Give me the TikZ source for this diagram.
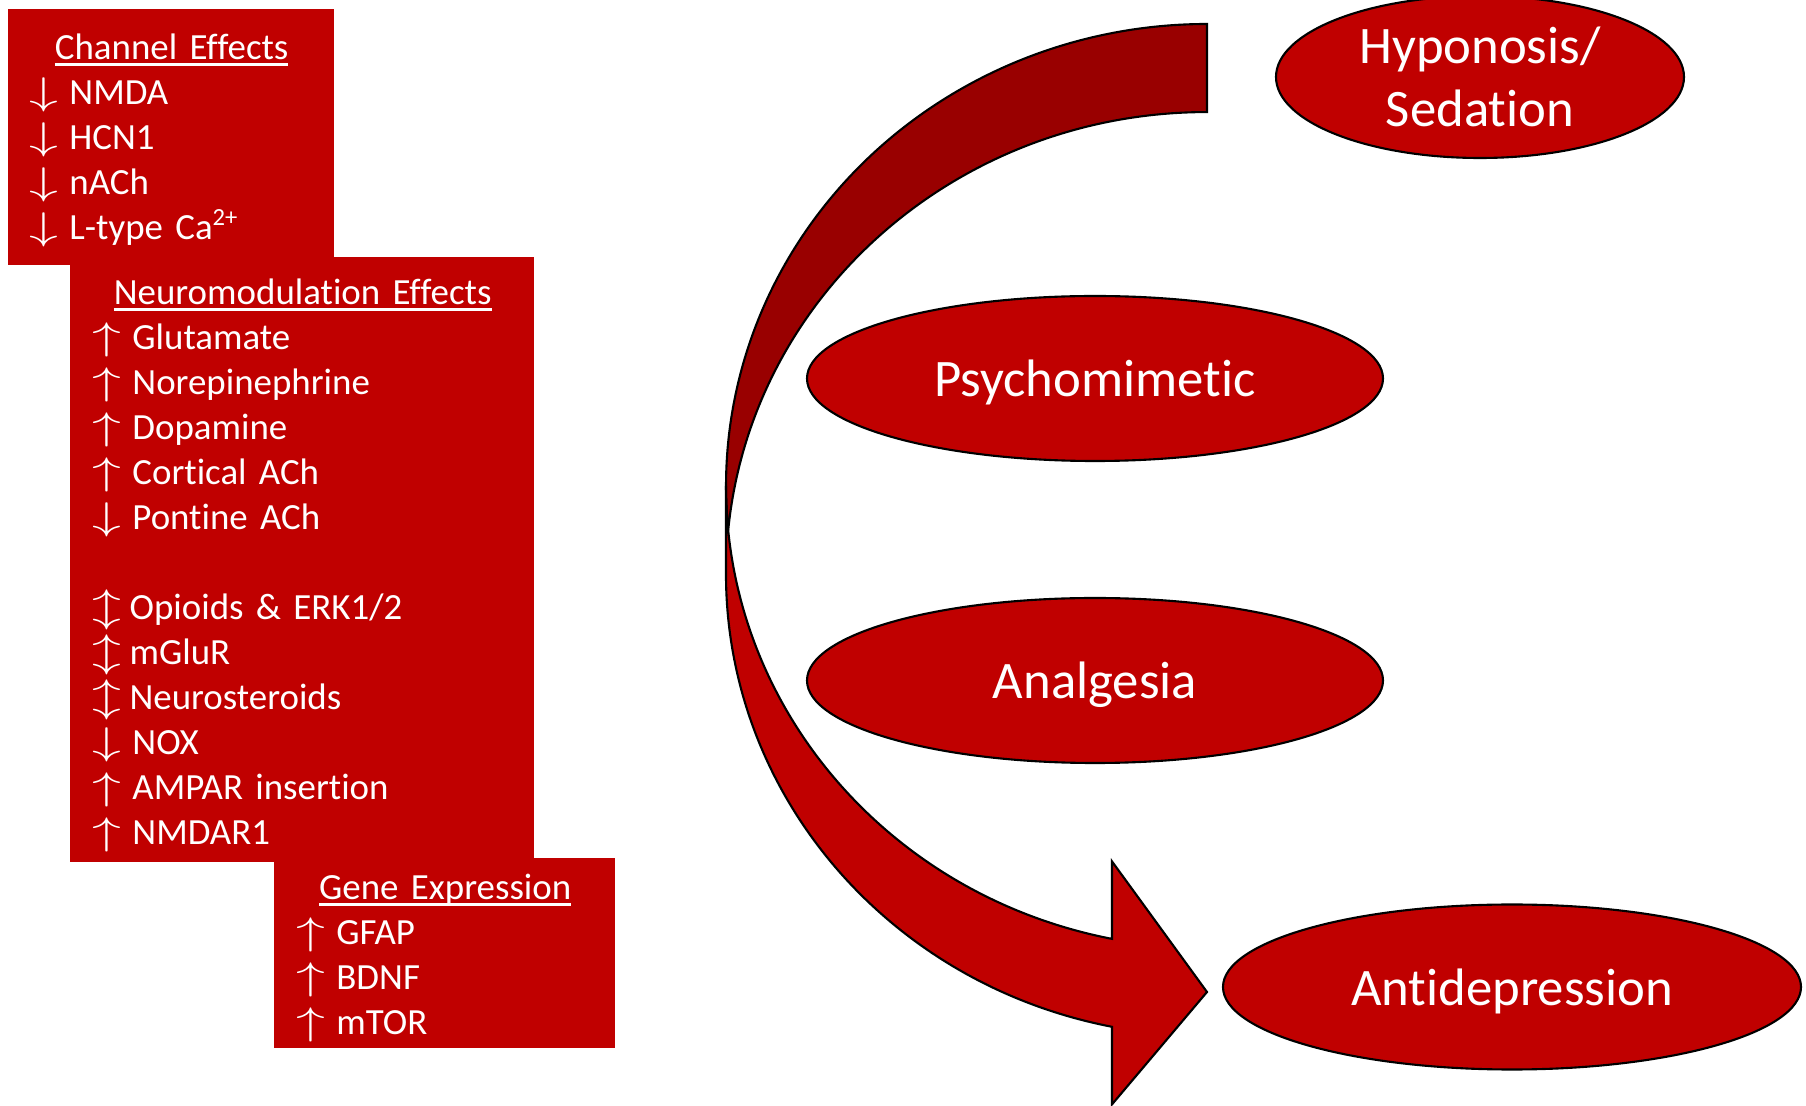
\documentclass[tikz,border=0pt]{standalone}
\usepackage{fontspec}
\setmainfont[Ligatures=NoCommon, RawFeature={-liga;-clig;-calt;-dlig}]{Carlito}
\usepackage{graphicx}
\usepackage{tikz}
\usetikzlibrary{positioning, shapes.geometric}

\definecolor{pptred}{HTML}{C00000}
\definecolor{pptdark}{HTML}{990000}

% arrows in front of the list entries
\newcommand{\incr}{\makebox[11.3pt][l]{\scalebox{1.5}[1]{$\uparrow$}}}
\newcommand{\decr}{\makebox[11.3pt][l]{\scalebox{1.5}[1]{$\downarrow$}}}
\newcommand{\both}{\makebox[10.5pt][l]{\scalebox{1.5}[1]{$\updownarrow$}}}
% underlined, centred heading of a box
\newsavebox{\titlebox}
\newcommand{\boxtitle}[1]{\sbox{\titlebox}{#1}%
    \makebox[\hsize]{\strut\rlap{\rule[-1.8pt]{\wd\titlebox}{0.6pt}}\usebox{\titlebox}}}
\newcommand{\ionsup}[1]{\raisebox{0.36em}{\fontsize{7}{8}\selectfont #1}}

\begin{document}
\begin{tikzpicture}[
    % red boxes holding the lists of effects
    effbox/.style={fill=pptred, inner sep=0pt, outer sep=0pt, anchor=north west},
    efftext/.style={text=white, font=\fontsize{10.5}{12.8}\selectfont, align=left, inner sep=0pt},
    % outcomes on the right
    outcome/.style={ellipse, draw=black, line width=0.6pt, fill=pptred, text=white, inner sep=0pt,
        font=\fontsize{15}{18}\selectfont, align=center},
    oneline/.style={outcome, text depth=0pt, minimum width=5.76cm, minimum height=1.65cm},
    band/.style={draw=black, line width=0.6pt, line join=miter}]

\useasboundingbox (0,0) rectangle (18.06,-11.06);

% Boxes with the effects
\node[effbox, minimum width=4.64cm, minimum height=6.05cm] (neuro) at (0.70,-2.57) {};
\node[effbox, minimum width=3.26cm, minimum height=2.56cm] (chan) at (0.08,-0.09) {};
\node[effbox, minimum width=3.41cm, minimum height=1.90cm] (gene) at (2.74,-8.58) {};

\node[efftext, text width=2.84cm, below right=0.18cm and 0.21cm of chan.north west] (chanlist) {%
    \boxtitle{Channel Effects}\\
    \decr NMDA\\
    \decr HCN1\\
    \decr nACh\\
    \decr L-type Ca\ionsup{2+}};
\node[efftext, text width=4.20cm, below right=0.15cm and 0.22cm of neuro.north west] (neurolist) {%
    \boxtitle{Neuromodulation Effects}\\
    \incr Glutamate\\
    \incr Norepinephrine\\
    \incr Dopamine\\
    \incr Cortical ACh\\
    \decr Pontine ACh\\[12.8pt]
    \both Opioids \& ERK1/2\\
    \both mGluR\\
    \both Neurosteroids\\
    \decr NOX\\
    \incr AMPAR insertion\\
    \incr NMDAR1};
\node[efftext, text width=2.97cm, below right=0.09cm and 0.22cm of gene.north west] (genelist) {%
    \boxtitle{Gene Expression}\\
    \incr GFAP\\
    \incr BDNF\\
    \incr mTOR};

% Curved arrow: back part (dark), then front part with the head
\coordinate (tail) at (12.07,-0.24);
\coordinate (bend) at (7.26,-4.86);
\draw[band, fill=pptdark] (tail)
    arc[start angle=90, end angle=185.47, x radius=4.81cm, y radius=4.62cm]
    arc[start angle=174.53, end angle=90, x radius=4.81cm, y radius=4.62cm] -- cycle;
\draw[band, fill=pptred] (bend)
    arc[start angle=180, end angle=258.61, x radius=4.81cm, y radius=4.62cm]
    -- (11.12,-8.614) -- (12.07,-9.92) -- (11.12,-11.044) -- (11.12,-10.268)
    arc[start angle=258.61, end angle=180, x radius=4.81cm, y radius=4.62cm] -- cycle;

% Outcomes
\node[outcome, minimum width=4.08cm, minimum height=1.62cm] (hypno) at (14.80,-0.77) {Hyponosis/\\Sedation};
\node[oneline] (psycho) at (10.95,-3.785) {Psychomimetic};
\node[oneline] (analg) at (10.95,-6.805) {Analgesia};
\node[oneline, minimum width=5.78cm] (antidep) at (15.12,-9.87) {Antidepression};

\end{tikzpicture}
\end{document}
